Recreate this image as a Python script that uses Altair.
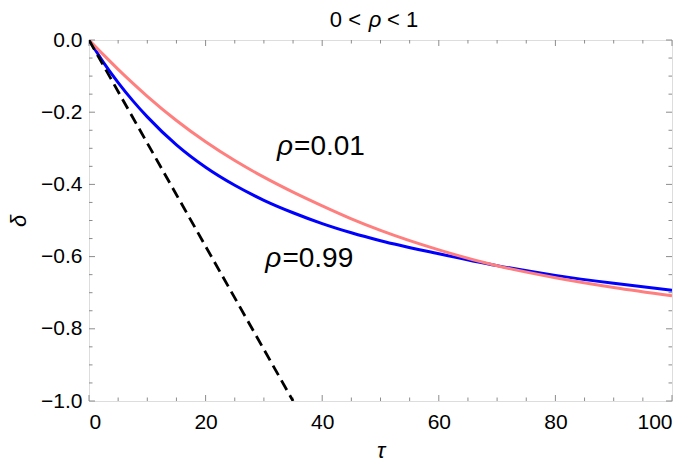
import altair as alt
import pandas as pd

# ---- data ----
tau = [0, 2.5, 5, 7.5, 10, 15, 20, 25, 30, 35, 40, 45, 50, 60, 70, 80, 90, 100]
delta_rho099 = [0, -0.0625, -0.118, -0.168, -0.213, -0.2905, -0.3525, -0.4025, -0.444, -0.4785,
                -0.5085, -0.534, -0.556, -0.592, -0.625, -0.652, -0.674, -0.693]
delta_rho001 = [0, -0.0413, -0.0813, -0.1195, -0.156, -0.223, -0.282, -0.334, -0.380, -0.4215,
                -0.4595, -0.4955, -0.5275, -0.5815, -0.6255, -0.6585, -0.6855, -0.7085]
dash_tau = [0, 35]
dash_delta = [0, -1]

x_major = [0, 20, 40, 60, 80, 100]
x_minor = [5, 10, 15, 25, 30, 35, 45, 50, 55, 65, 70, 75, 85, 90, 95]
y_major = [0, -0.2, -0.4, -0.6, -0.8, -1.0]
y_minor = [-0.05, -0.1, -0.15, -0.25, -0.3, -0.35, -0.45, -0.5, -0.55,
           -0.65, -0.7, -0.75, -0.85, -0.9, -0.95]

labels_rho = ["ρ", "ρ"]
labels_val = ["=0.01", "=0.99"]
label_tau = [35.0, 33.0]
label_delta = [-0.318, -0.628]

title_parts = ["0 <", "ρ", "< 1"]

W, H = 583, 361
FONT = "Liberation Sans"
FRAME = "#8c8c8c"

xs = alt.Scale(domain=[0, 100], nice=False, zero=False)
ys = alt.Scale(domain=[-1, 0], nice=False, zero=False)

curves = pd.DataFrame({
    "tau": tau * 2,
    "delta": delta_rho099 + delta_rho001,
    "series": ["ρ=0.99"] * len(tau) + ["ρ=0.01"] * len(tau),
})

base_x = alt.X("tau:Q", scale=xs,
               axis=alt.Axis(values=x_major, tickSize=0, domain=False, grid=False,
                             labelFontSize=21, labelFont=FONT, labelColor="black",
                             labelPadding=10, title="τ", titleFont=FONT,
                             titleFontSize=22, titleFontWeight="normal",
                             titleFontStyle="italic", titlePadding=8))
base_y = alt.Y("delta:Q", scale=ys,
               axis=alt.Axis(values=y_major, tickSize=0, domain=False, grid=False,
                             labelFontSize=21, labelFont=FONT, labelColor="black",
                             labelPadding=7,
                             labelExpr="datum.value == 0 ? '0.0' : '\u2212' + format(-datum.value, '.1f')",
                             title="δ", titleFont=FONT, titleFontSize=22,
                             titleFontWeight="normal", titleFontStyle="italic",
                             titlePadding=10))

lines = alt.Chart(curves).mark_line(strokeWidth=3, interpolate="monotone", clip=True).encode(
    x=base_x, y=base_y,
    color=alt.Color("series:N", scale=alt.Scale(domain=["ρ=0.99", "ρ=0.01"],
                                                range=["#0000ff", "#ff7f7f"]), legend=None),
    order=alt.Order("tau:Q"),
)

dashed = alt.Chart(pd.DataFrame({"tau": dash_tau, "delta": dash_delta})).mark_line(
    strokeWidth=2.8, color="black", strokeDash=[11, 6], clip=True
).encode(x=alt.X("tau:Q", scale=xs), y=alt.Y("delta:Q", scale=ys))

# frame ticks (inward), Mathematica style
bot_major = alt.Chart(pd.DataFrame({"t": x_major})).mark_rule(color=FRAME).encode(
    x=alt.X("t:Q", scale=xs), y=alt.value(H), y2=alt.value(H - 6))
bot_minor = alt.Chart(pd.DataFrame({"t": x_minor})).mark_rule(color=FRAME).encode(
    x=alt.X("t:Q", scale=xs), y=alt.value(H), y2=alt.value(H - 3.5))
top_major = alt.Chart(pd.DataFrame({"t": x_major})).mark_rule(color=FRAME).encode(
    x=alt.X("t:Q", scale=xs), y=alt.value(0), y2=alt.value(6))
top_minor = alt.Chart(pd.DataFrame({"t": x_minor})).mark_rule(color=FRAME).encode(
    x=alt.X("t:Q", scale=xs), y=alt.value(0), y2=alt.value(3.5))
left_major = alt.Chart(pd.DataFrame({"t": y_major})).mark_rule(color=FRAME).encode(
    y=alt.Y("t:Q", scale=ys), x=alt.value(0), x2=alt.value(6))
left_minor = alt.Chart(pd.DataFrame({"t": y_minor})).mark_rule(color=FRAME).encode(
    y=alt.Y("t:Q", scale=ys), x=alt.value(0), x2=alt.value(3.5))
right_major = alt.Chart(pd.DataFrame({"t": y_major})).mark_rule(color=FRAME).encode(
    y=alt.Y("t:Q", scale=ys), x=alt.value(W), x2=alt.value(W - 6))
right_minor = alt.Chart(pd.DataFrame({"t": y_minor})).mark_rule(color=FRAME).encode(
    y=alt.Y("t:Q", scale=ys), x=alt.value(W), x2=alt.value(W - 3.5))

lab = pd.DataFrame({"tau": label_tau, "delta": label_delta,
                    "rho": labels_rho, "val": labels_val})
rho_txt = alt.Chart(lab).mark_text(fontSize=28, font=FONT, fontStyle="italic",
                                   align="right", baseline="alphabetic", color="black").encode(
    x=alt.X("tau:Q", scale=xs), y=alt.Y("delta:Q", scale=ys), text="rho:N")
val_txt = alt.Chart(lab).mark_text(fontSize=28, font=FONT, align="left", dx=1,
                                   baseline="alphabetic", color="black").encode(
    x=alt.X("tau:Q", scale=xs), y=alt.Y("delta:Q", scale=ys), text="val:N")

# title "0 < ρ < 1" above the frame
TY = -13
t_left = alt.Chart(pd.DataFrame({"t": [title_parts[0]]})).mark_text(
    fontSize=22, font=FONT, align="right", baseline="alphabetic", color="black"
).encode(x=alt.value(272), y=alt.value(TY), text="t:N")
t_mid = alt.Chart(pd.DataFrame({"t": [title_parts[1]]})).mark_text(
    fontSize=22, font=FONT, fontStyle="italic", align="center", baseline="alphabetic",
    color="black"
).encode(x=alt.value(286), y=alt.value(TY), text="t:N")
t_right = alt.Chart(pd.DataFrame({"t": [title_parts[2]]})).mark_text(
    fontSize=22, font=FONT, align="left", baseline="alphabetic", color="black"
).encode(x=alt.value(298), y=alt.value(TY), text="t:N")

chart = alt.layer(
    bot_major, bot_minor, top_major, top_minor, left_major, left_minor,
    right_major, right_minor, lines, dashed, rho_txt, val_txt, t_left, t_mid, t_right
).properties(
    width=W, height=H,
    padding={"left": 81, "top": 32, "right": 12, "bottom": 58},
    autosize="none",
).configure_view(stroke=FRAME, strokeWidth=1).configure(background="white")

chart.save("out.html", embed_options={"renderer": "svg", "actions": False})
